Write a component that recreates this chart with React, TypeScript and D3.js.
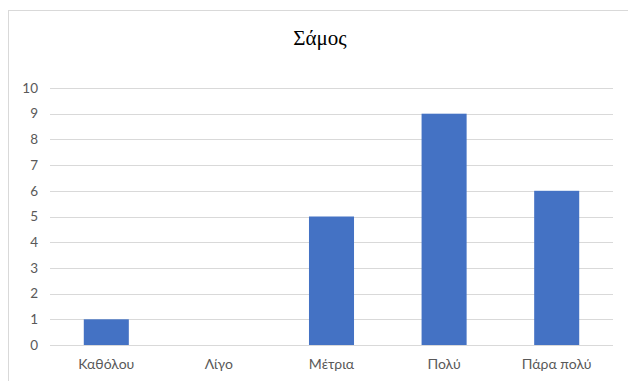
import React from "react";
import * as d3 from "d3";

const categories = ["Καθόλου", "Λίγο", "Μέτρια", "Πολύ", "Πάρα πολύ"];
const values = [1, 0, 5, 9, 6];
const yTicks = [0, 1, 2, 3, 4, 5, 6, 7, 8, 9, 10];
const title = "Σάμος";

export default function App() {
  const W = 628, H = 381;
  const left = 50, right = 613, top = 88, bottom = 345;
  const x = d3.scaleBand<string>().domain(categories).range([left, right]).paddingInner(0.6).paddingOuter(0.3);
  const y = d3.scaleLinear().domain([0, 10]).range([bottom, top]);
  const font = "Lato, 'Open Sans', sans-serif";
  return (
    <svg width={W} height={H} style={{ position: "absolute", left: 0, top: 0, background: "#fff" }}>
      <rect x={8.5} y={10.5} width={W + 10} height={H + 10} fill="#fff" stroke="#d9d9d9" strokeWidth={1} />
      <text x={320} y={45} textAnchor="middle" fontFamily="'Liberation Serif', 'Times New Roman', serif" fontSize={21} fill="#000">{title}</text>
      {yTicks.map((t) => (
        <g key={t}>
          <line x1={left} x2={right} y1={Math.round(y(t)) + 0.5} y2={Math.round(y(t)) + 0.5} stroke="#d9d9d9" strokeWidth={1} />
          <text x={38} y={y(t)} dy="0.35em" textAnchor="end" fontFamily={font} fontSize={13.5} fill="#595959">{t}</text>
        </g>
      ))}
      {categories.map((c, i) => (
        <g key={c}>
          {values[i] > 0 && (
            <rect x={x(c)!} y={y(values[i])} width={x.bandwidth()} height={y(0) - y(values[i])} fill="#4472C4" />
          )}
          <text x={x(c)! + x.bandwidth() / 2} y={369} textAnchor="middle" fontFamily={font} fontSize={14} fill="#595959">{c}</text>
        </g>
      ))}
    </svg>
  );
}
